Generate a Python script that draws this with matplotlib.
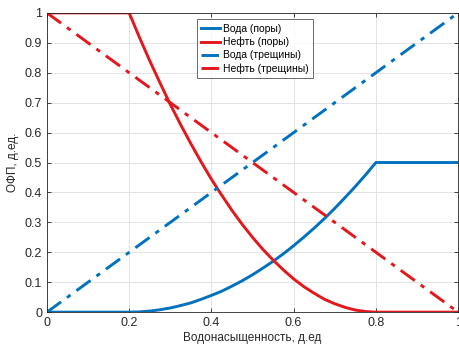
import matplotlib
matplotlib.use("Agg")
import matplotlib.pyplot as plt
from matplotlib.ticker import FuncFormatter

# water saturation, fraction
sw = [0.0, 0.1, 0.2, 0.225, 0.25, 0.275, 0.3, 0.325, 0.35, 0.375, 0.4,
      0.425, 0.45, 0.475, 0.5, 0.525, 0.55, 0.575, 0.6, 0.625, 0.65,
      0.675, 0.7, 0.725, 0.75, 0.775, 0.8, 0.9, 1.0]
# relative permeability
water_pores = [0, 0, 0, 0.001, 0.0035, 0.008, 0.014, 0.022, 0.031, 0.043, 0.056,
               0.070, 0.087, 0.105, 0.125, 0.147, 0.170, 0.195, 0.222, 0.251, 0.281,
               0.313, 0.347, 0.383, 0.420, 0.459, 0.5, 0.5, 0.5]
oil_pores = [1, 1, 1, 0.918, 0.840, 0.766, 0.694, 0.627, 0.563, 0.502, 0.444,
             0.391, 0.340, 0.293, 0.25, 0.210, 0.174, 0.141, 0.111, 0.085, 0.063,
             0.043, 0.028, 0.016, 0.007, 0.002, 0, 0, 0]
sw_frac = [0.0, 1.0]
water_frac = [0.0, 1.0]
oil_frac = [1.0, 0.0]

labels = ["Вода (поры)", "Нефть (поры)", "Вода (трещины)", "Нефть (трещины)"]
blue = "#0072BD"
red = "#E3171C"

plt.rcParams["font.family"] = ["Liberation Sans", "DejaVu Sans"]

fig = plt.figure(figsize=(4.6, 3.48), dpi=100)
ax = fig.add_axes([0.102, 0.103, 0.894, 0.860])

ax.plot(sw, water_pores, color=blue, lw=2.1, label=labels[0])
ax.plot(sw, oil_pores, color=red, lw=2.1, label=labels[1])
ax.plot(sw_frac, water_frac, color=blue, lw=2.1, ls=(0, (6, 2.5, 1.5, 2.5)), label=labels[2])
ax.plot(sw_frac, oil_frac, color=red, lw=2.1, ls=(0, (6, 2.5, 1.5, 2.5)), label=labels[3])

ax.set_xlim(0, 1)
ax.set_ylim(0, 1)
ax.set_xticks([0, 0.2, 0.4, 0.6, 0.8, 1.0])
ax.set_yticks([i / 10 for i in range(11)])
fmt = FuncFormatter(lambda v, p: ("%g" % round(v, 2)))
ax.xaxis.set_major_formatter(fmt)
ax.yaxis.set_major_formatter(fmt)
ax.tick_params(direction="in", top=True, right=True, length=3, width=0.6,
               labelsize=9, colors="#262626")
ax.grid(True, color="#e3e3e3", lw=0.7)
ax.set_axisbelow(True)
for s in ax.spines.values():
    s.set_color("#262626")
    s.set_linewidth(0.6)

ax.set_xlabel("Водонасыщенность, д.ед", fontsize=8.5, color="#262626", labelpad=2)
ax.set_ylabel("ОФП, д.ед.", fontsize=8.5, color="#262626", labelpad=4)

leg = ax.legend(loc="upper left", bbox_to_anchor=(0.36, 0.985), fontsize=7.5,
                frameon=True, fancybox=False, edgecolor="#262626",
                handlelength=1.8, handletextpad=0.3, borderpad=0.4,
                labelspacing=0.3, borderaxespad=0.2)
leg.get_frame().set_linewidth(0.6)

fig.savefig("out.png", dpi=100)
